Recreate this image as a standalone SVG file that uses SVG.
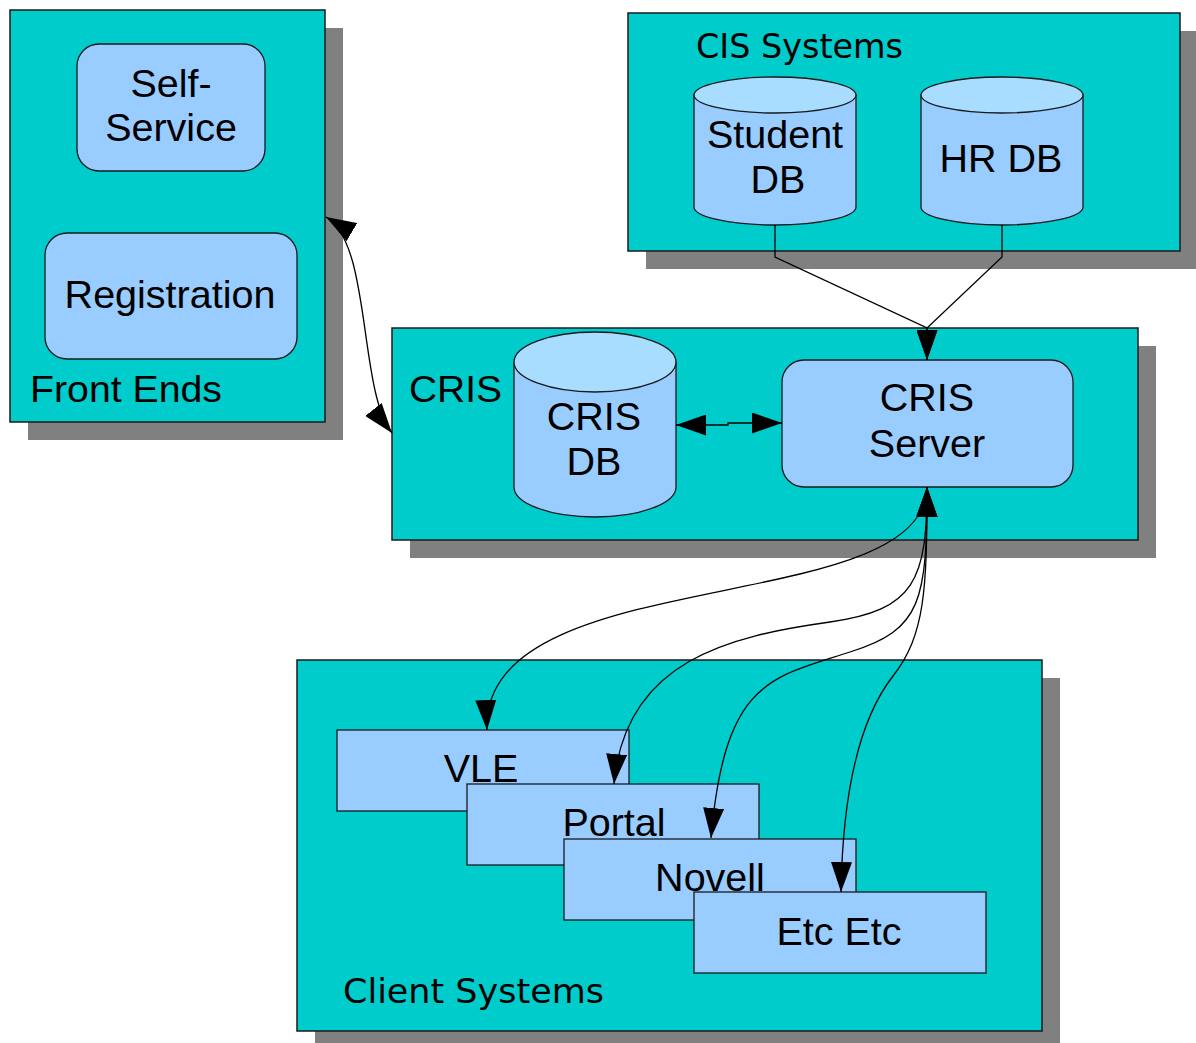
<svg xmlns="http://www.w3.org/2000/svg" width="1196" height="1043" viewBox="0 0 1196 1043">
<style>
.shadow{fill:#808080;stroke:none}
.box{fill:#00cccc;stroke:#1a1a1a;stroke-width:1.5}
.node{fill:#99ccff;stroke:#1a1a1a;stroke-width:1.3}
.cyltop{fill:#a8ddff;stroke:#1a1a1a;stroke-width:1.3}
.lbl{font-family:"Liberation Sans",Arial,sans-serif;font-size:39.5px;fill:#000;text-anchor:middle}
.title{font-family:"Liberation Sans",Arial,sans-serif;font-size:37px;fill:#000}
.title2{font-family:"DejaVu Sans",Verdana,sans-serif;font-size:34px;fill:#000}
.conn{fill:none;stroke:#000;stroke-width:1.3}
</style>
<defs>
<marker id="arr" viewBox="0 0 30 21" refX="30" refY="10.5" markerWidth="30" markerHeight="21" markerUnits="userSpaceOnUse" orient="auto-start-reverse">
<path d="M0,0 L30,10.5 L0,21 z" fill="#000"/>
</marker>
</defs>

<g id="front-ends">
<rect class="shadow" x="28" y="28" width="315" height="412"/>
<rect class="box" x="10" y="10" width="315" height="412"/>
<text class="title" x="30" y="402" textLength="192" lengthAdjust="spacingAndGlyphs">Front Ends</text>
</g>
<g id="self-service">
<rect class="node" x="77" y="44" width="188" height="127" rx="22"/>
<text class="lbl" x="171" y="97">Self-</text>
<text class="lbl" x="171" y="141">Service</text>
</g>
<g id="registration">
<rect class="node" x="45" y="233" width="252" height="126" rx="22"/>
<text class="lbl" x="170" y="308">Registration</text>
</g>

<g id="cis-systems">
<rect class="shadow" x="646" y="31" width="552" height="238"/>
<rect class="box" x="628" y="13" width="552" height="238"/>
<text class="title2" x="696" y="58" textLength="207" lengthAdjust="spacingAndGlyphs">CIS Systems</text>
</g>
<g id="student-db">
<path class="node" d="M694,95 L694,207 A81,18 0 0 0 856,207 L856,95 Z"/>
<ellipse class="cyltop" cx="775" cy="95" rx="81" ry="18"/>
<text class="lbl" x="775" y="148">Student</text>
<text class="lbl" x="778" y="193">DB</text>
</g>
<g id="hr-db">
<path class="node" d="M921,95 L921,207 A81,18 0 0 0 1083,207 L1083,95 Z"/>
<ellipse class="cyltop" cx="1002" cy="95" rx="81" ry="18"/>
<text class="lbl" x="1001" y="172">HR DB</text>
</g>

<g id="cris">
<rect class="shadow" x="410" y="346" width="746" height="212"/>
<rect class="box" x="392" y="328" width="746" height="212"/>
<text class="title" x="409" y="402" textLength="93" lengthAdjust="spacingAndGlyphs">CRIS</text>
</g>
<g id="cris-db">
<path class="node" d="M514,362 L514,487 A81,30 0 0 0 676,487 L676,362 Z"/>
<ellipse class="cyltop" cx="595" cy="362" rx="81" ry="30"/>
<text class="lbl" x="594" y="430">CRIS</text>
<text class="lbl" x="594" y="475">DB</text>
</g>
<g id="cris-server">
<rect class="node" x="782" y="360" width="291" height="127" rx="22"/>
<text class="lbl" x="927" y="411">CRIS</text>
<text class="lbl" x="927" y="457">Server</text>
</g>

<g id="client-systems">
<rect class="shadow" x="315" y="678" width="745" height="371"/>
<rect class="box" x="297" y="660" width="745" height="371"/>
<text class="title2" x="343" y="1003" textLength="261" lengthAdjust="spacingAndGlyphs">Client Systems</text>
</g>
<g id="vle">
<rect class="node" x="337" y="730" width="292" height="81"/>
<text class="lbl" x="481" y="782">VLE</text>
</g>
<g id="portal">
<rect class="node" x="467" y="784" width="292" height="81"/>
<text class="lbl" x="614" y="836">Portal</text>
</g>
<g id="novell">
<rect class="node" x="564" y="839" width="292" height="81"/>
<text class="lbl" x="710" y="891">Novell</text>
</g>
<g id="etc">
<rect class="node" x="694" y="892" width="292" height="81"/>
<text class="lbl" x="839" y="945">Etc Etc</text>
</g>

<g id="connectors">
<path class="conn" d="M326,217 C372,244 358,390 392,433" marker-start="url(#arr)" marker-end="url(#arr)"/>
<path class="conn" d="M676,425 L728,425 L728,423 L782,423" marker-start="url(#arr)" marker-end="url(#arr)"/>
<path class="conn" d="M775,225 L775,257 L927,328 L927,360" marker-end="url(#arr)"/>
<path class="conn" d="M1002,225 L1002,257 L927,328 L927,360" marker-end="url(#arr)"/>
<path class="conn" d="M927,487 C925,620 480,560 487,730" marker-start="url(#arr)" marker-end="url(#arr)"/>
<path class="conn" d="M927,487 C927,580 915,610 830,622 C730,636 625,660 614,784" marker-start="url(#arr)" marker-end="url(#arr)"/>
<path class="conn" d="M927,487 C927,600 922,630 850,652 C770,678 725,680 711,838" marker-start="url(#arr)" marker-end="url(#arr)"/>
<path class="conn" d="M927,487 C927,590 925,635 893,676 C868,708 843,770 841,892" marker-start="url(#arr)" marker-end="url(#arr)"/>
</g>
</svg>
